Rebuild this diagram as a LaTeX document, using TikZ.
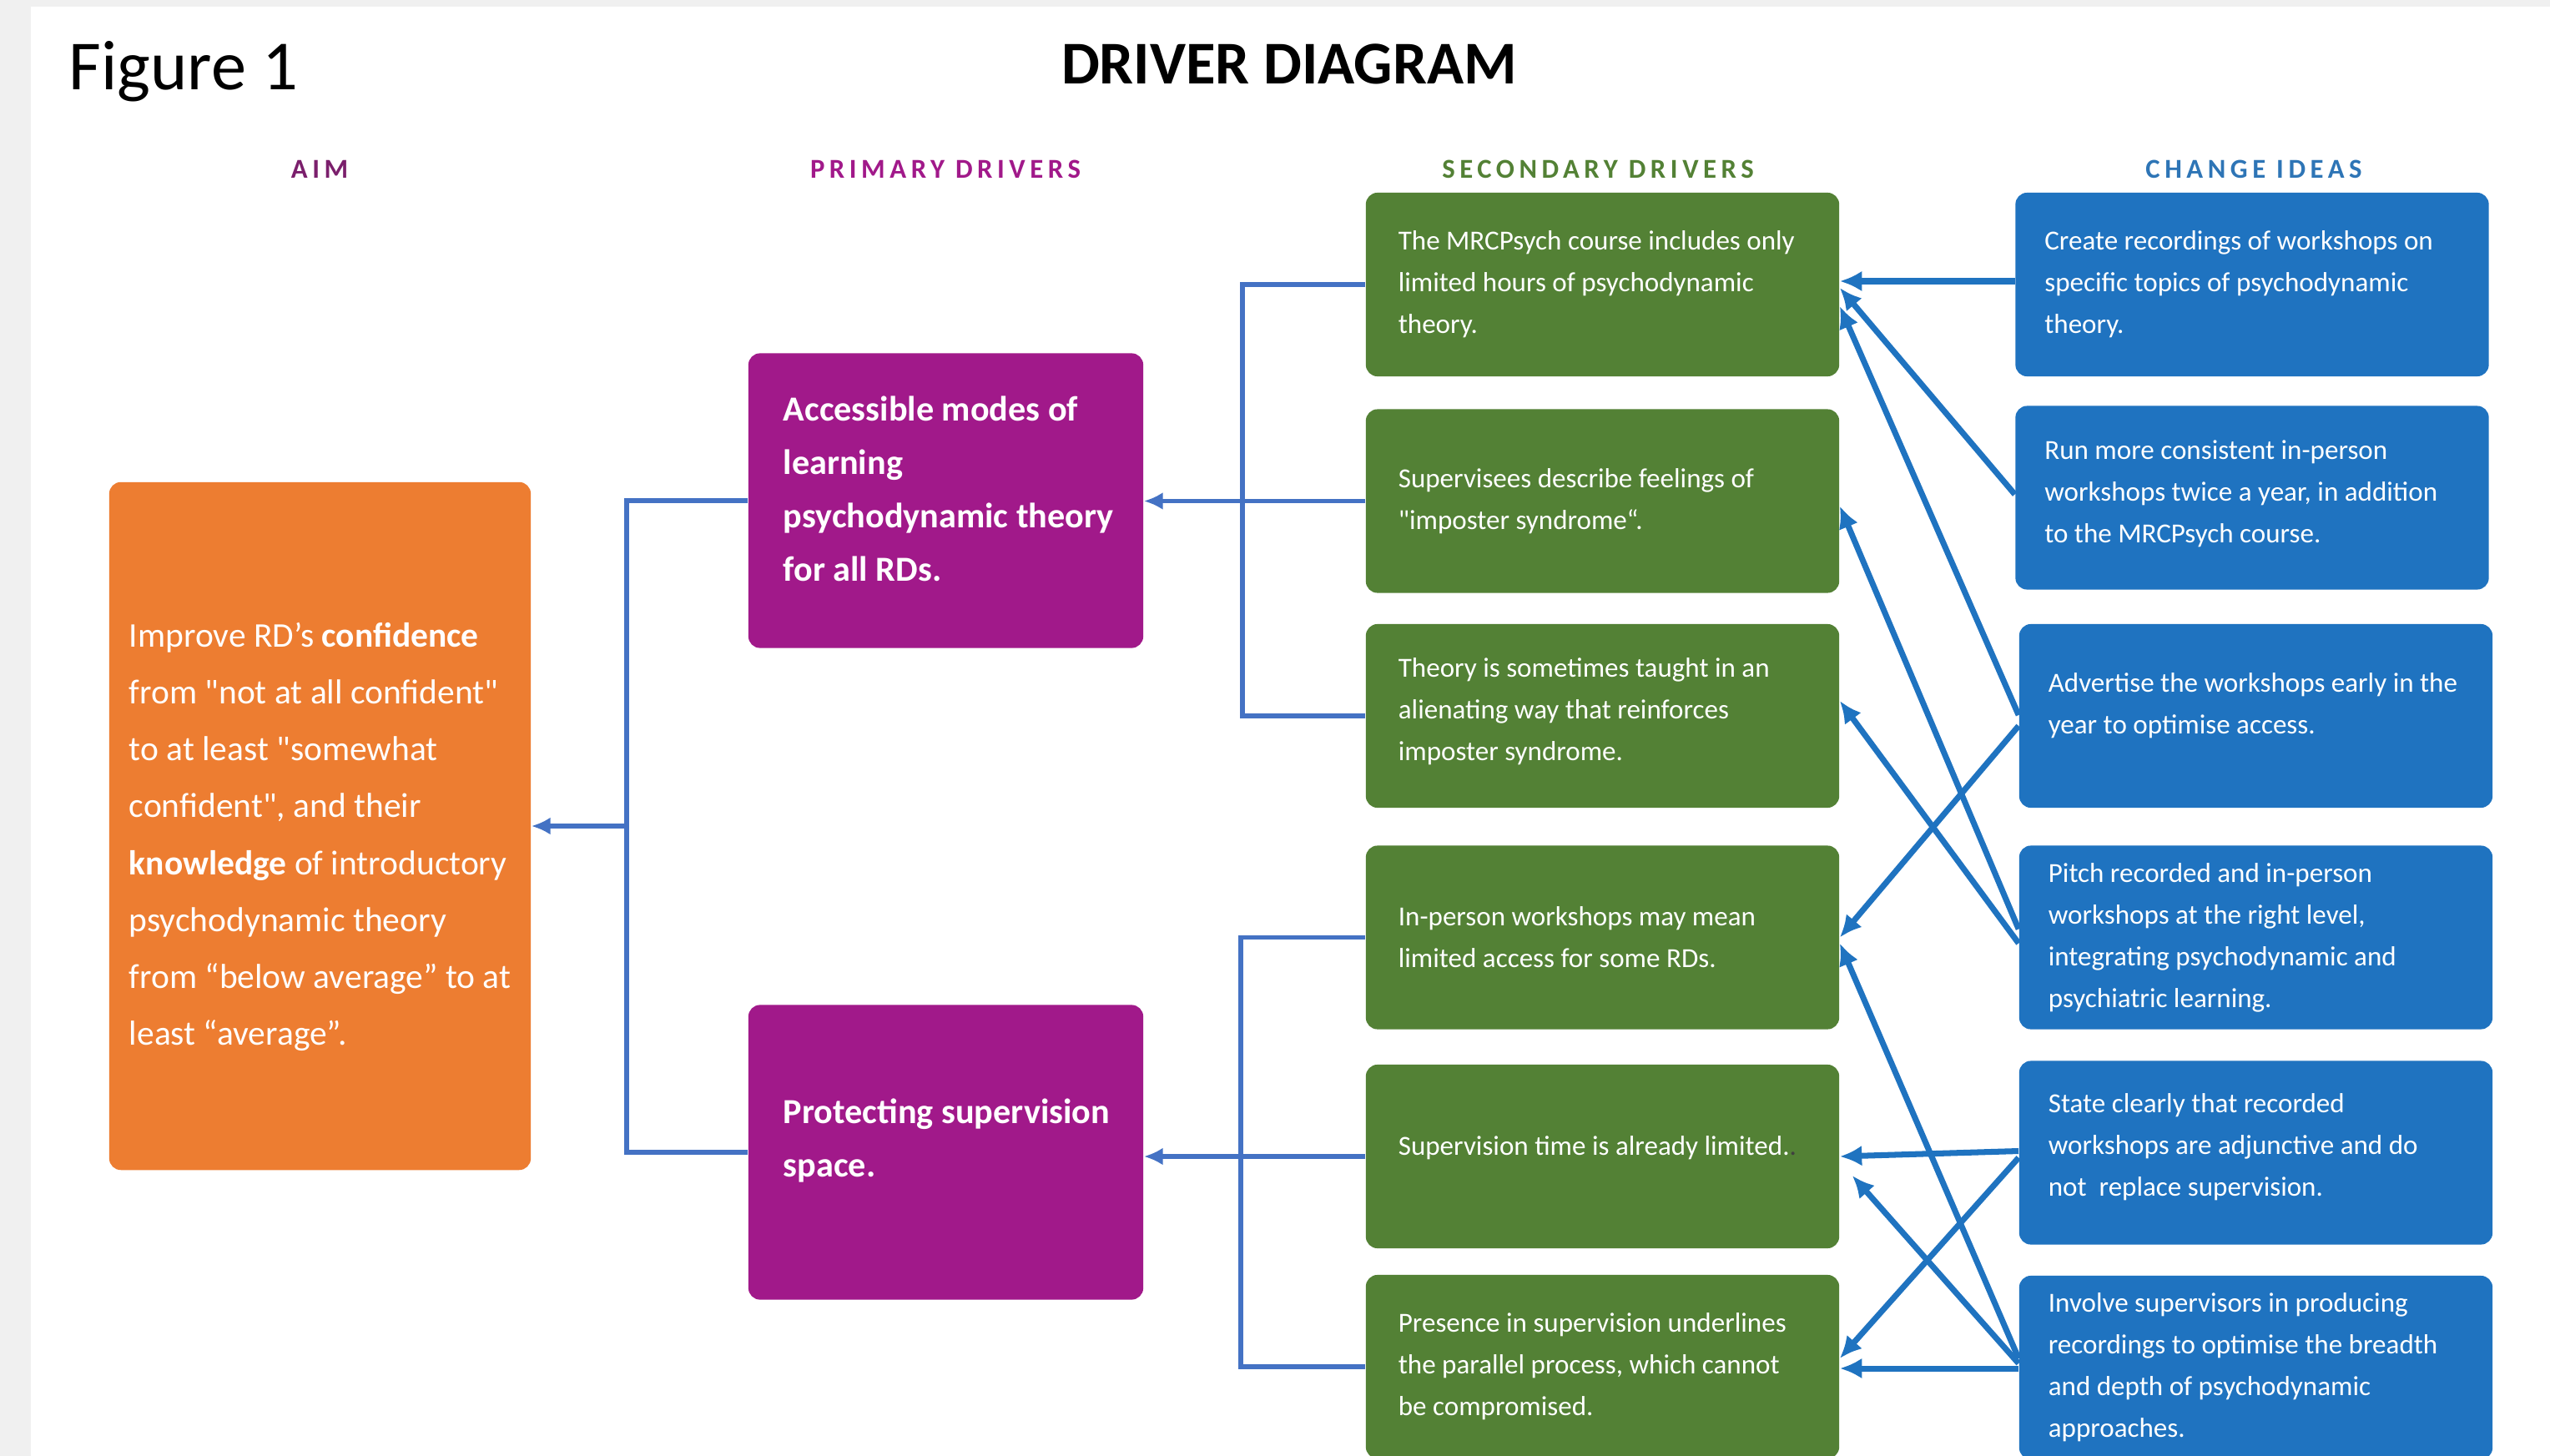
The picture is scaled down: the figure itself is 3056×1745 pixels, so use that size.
\documentclass[tikz,border=0pt]{standalone}
\usepackage{fontspec}
\setmainfont{Carlito}[Ligatures=TeXOff]
\usetikzlibrary{positioning,calc,arrows.meta}

\definecolor{aimorange}{HTML}{ED7D31}
\definecolor{primpurple}{HTML}{A1198A}
\definecolor{secgreen}{HTML}{538135}
\definecolor{ideablue}{HTML}{1F73C0}
\definecolor{linkblue}{HTML}{4472C4}
\definecolor{aimhead}{HTML}{7B1F6C}
\definecolor{ideahead}{HTML}{2E75B6}
\definecolor{pagegray}{HTML}{F0F0F0}

\tikzset{box/.style={rounded corners=1.4mm,inner sep=0pt,draw=none}}
\tikzset{aimbox/.style={box,fill=aimorange,minimum width=5.05cm,minimum height=8.24cm}}
\tikzset{primbox/.style={box,fill=primpurple,minimum width=4.73cm,minimum height=3.53cm}}
\tikzset{secbox/.style={box,fill=secgreen,minimum width=5.67cm,minimum height=2.2cm}}
\tikzset{ideabox/.style={box,fill=ideablue,minimum width=5.67cm,minimum height=2.2cm}}
\tikzset{boxtext/.style={text=white,anchor=west,align=left,inner sep=0pt,font=\fontsize{9.4}{14.2}\selectfont}}
\tikzset{head/.style={anchor=base,inner sep=0pt,font=\bfseries\fontsize{9.3}{11}\selectfont\addfontfeature{LetterSpace=17}}}
\tikzset{link/.style={draw=linkblue,line width=1.6pt}}
\tikzset{idea/.style={draw=ideablue,line width=2pt,-{Latex[length=7.5pt,width=7pt]}}}

\begin{document}
\begin{tikzpicture}[x=0.01cm,y=-0.01cm]
  \useasboundingbox (0,0) rectangle (3056,1745);
  \fill[pagegray] (0,0) rectangle (3056,1745);
  \fill[white] (37,8) rectangle (3056,1745);

  % titles
  \node[anchor=base west,inner sep=0pt,font=\fontsize{24}{30}\selectfont] (fig) at (82,107) {Figure 1};
  \node[anchor=base,inner sep=0pt,font=\bfseries\fontsize{20.7}{24}\selectfont] (title) at (1545,100) {DRIVER DIAGRAM};
  \node[head,text=aimhead] (haim) at (383,213) {AIM};
  \node[head,text=primpurple] (hprim) at (1133,213) {PRIMARY DRIVERS};
  \node[head,text=secgreen] (hsec) at (1915,213) {SECONDARY DRIVERS};
  \node[head,text=ideahead] (hidea) at (2701,213) {CHANGE IDEAS};

  % boxes
  \node[aimbox] (aim) at (383.5,990) {};
  \node[primbox] (p1) at (1133.5,600) {};
  \node[primbox] (p2) at (1133.5,1381) {};
  \foreach \n/\y in {s1/341,s2/600.5,s3/858,s4/1123.5,s5/1386,s6/1638}
    \node[secbox] (\n) at (1920.5,\y) {};
  \foreach \n/\x/\y in {c1/2699/341,c2/2699/596.5,c3/2703.5/858,c4/2703.5/1123.5,c5/2703.5/1381.5,c6/2703.5/1639}
    \node[ideabox] (\n) at (\x,\y) {};

  % texts
  \node[boxtext,font=\fontsize{11.8}{19.4}\selectfont] (aimt) at ($(aim.west)+(24,13)$)
    {Improve RD’s \textbf{confidence}\\from "not at all confident"\\to at least "somewhat\\confident", and their\\\textbf{knowledge} of introductory\\psychodynamic theory\\from “below average” to at\\least “average”.};
  \node[boxtext,font=\bfseries\fontsize{12}{18.2}\selectfont] (p1t) at ($(p1.west)+(42,-14)$)
    {Accessible modes of\\learning\\psychodynamic theory\\for all RDs.};
  \node[boxtext,font=\bfseries\fontsize{12}{18.2}\selectfont] (p2t) at ($(p2.west)+(42,-14)$)
    {Protecting supervision\\space.};

  \node[boxtext] (s1t) at ($(s1.west)+(39,0)$) {The MRCPsych course includes only\\limited hours of psychodynamic\\theory.};
  \node[boxtext] (s2t) at ($(s2.west)+(39,0)$) {Supervisees describe feelings of\\"imposter syndrome“.};
  \node[boxtext] (s3t) at ($(s3.west)+(39,-5)$) {Theory is sometimes taught in an\\alienating way that reinforces\\imposter syndrome.};
  \node[boxtext] (s4t) at ($(s4.west)+(39,0)$) {In-person workshops may mean\\limited access for some RDs.};
  \node[boxtext] (s5t) at ($(s5.west)+(39,-10)$) {Supervision time is already limited.{\color{darkgray}.}};
  \node[boxtext] (s6t) at ($(s6.west)+(39,0)$) {Presence in supervision underlines\\the parallel process, which cannot\\be compromised.};

  \node[boxtext] (c1t) at ($(c1.west)+(35,0)$) {Create recordings of workshops on\\specific topics of psychodynamic\\theory.};
  \node[boxtext] (c2t) at ($(c2.west)+(35,-5)$) {Run more consistent in-person\\workshops twice a year, in addition\\to the MRCPsych course.};
  \node[boxtext] (c3t) at ($(c3.west)+(35,-12)$) {Advertise the workshops early in the\\year to optimise access.};
  \node[boxtext] (c4t) at ($(c4.west)+(35,0)$) {Pitch recorded and in-person\\workshops at the right level,\\integrating psychodynamic and\\psychiatric learning.};
  \node[boxtext] (c5t) at ($(c5.west)+(35,-7)$) {State clearly that recorded\\workshops are adjunctive and do\\not\ \ replace supervision.};
  \node[boxtext] (c6t) at ($(c6.west)+(35,0)$) {Involve supervisors in producing\\recordings to optimise the breadth\\and depth of psychodynamic\\approaches.};

  % secondary -> primary -> aim
  \draw[link] (s1.west) -- ++(-147,0) |- (s3.west);
  \draw[link,-{Latex[length=6.5pt,width=6pt]}] (s2.west) -- (s2.west -| p1.east);
  \draw[link] (s4.west) -- ++(-149,0) |- (s6.west);
  \draw[link,-{Latex[length=6.5pt,width=6pt]}] (s5.west) -- (s5.west -| p2.east);
  \draw[link] (p1.west) -- ++(-145,0) coordinate (busP) |- (p2.west);
  \draw[link,-{Latex[length=6.5pt,width=6pt]}] (busP |- aim.east) -- (aim.east);

  % change ideas -> secondary drivers
  \foreach \a/\ay/\b/\bx/\by in {c1/-4/s1/0/-4,c2/-4/s1/0/4,c3/-1/s1/0/26,c4/-10/s2/0/6,c4/7/s3/0/-18,c3/12/s4/0/0,c6/-11/s4/0/7,c5/-2/s5/0/0,c6/-5/s5/15/23,c5/6/s6/0/-10,c6/1/s6/0/2}
    \draw[idea] ($(\a.west)+(0,\ay)$) -- ($(\b.east)+(\bx,\by)$);
\end{tikzpicture}
\end{document}
